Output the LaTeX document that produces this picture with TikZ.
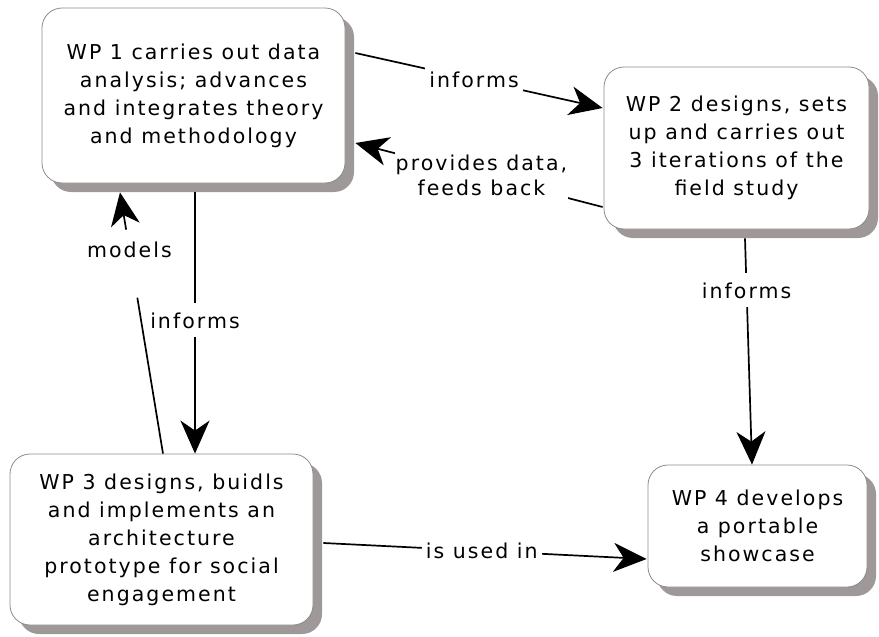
\documentclass[tikz,border=0pt]{standalone}
\usepackage{fontspec}
\setmainfont{DejaVu Sans}[LetterSpace=10]
\usetikzlibrary{arrows.meta,calc,shadows}
\definecolor{shadowgray}{RGB}{158,152,152}
\definecolor{edgegray}{RGB}{140,140,140}
\begin{document}
\begin{tikzpicture}[x=1pt,y=-1pt,
  wpbox/.style={draw=edgegray, line width=0.8pt, fill=white, rounded corners=20pt,
    align=center, inner sep=0pt, font=\fontsize{20.5}{28}\selectfont,
    drop shadow={shadow xshift=9pt, shadow yshift=-9pt, fill=shadowgray, opacity=1}},
  conn/.style={line width=1.7pt, -{Stealth[length=33pt,width=29pt,inset=10pt]}},
  lbl/.style={font=\fontsize{20.5}{25}\selectfont, align=center, inner sep=4pt},
  lblw/.style={lbl, fill=white, inner ysep=9pt}]
\useasboundingbox (0,0) rectangle (879,637);

\node[wpbox, minimum width=303pt, minimum height=175pt] (wp1) at (193.5,95.5)
  {WP 1 carries out data\\analysis; advances\\and integrates theory\\and methodology};
\node[wpbox, minimum width=265pt, minimum height=162pt] (wp2) at (736.5,148)
  {WP 2 designs, sets\\up and carries out\\3 iterations of the\\field study};
\node[wpbox, minimum width=303pt, minimum height=171pt] (wp3) at (161.5,539.5)
  {WP 3 designs, buidls\\and implements an\\architecture\\prototype for social\\engagement};
\node[wpbox, minimum width=219pt, minimum height=122pt] (wp4) at (757.5,526)
  {WP 4 develops\\a portable\\showcase};

% WP1 -> WP2
\draw[conn] ($(wp1.east)+(10,-42.5)$) -- node[lblw, pos=0.48, inner ysep=4pt] {informs} ($(wp2.west)+(-1,-40)$);
% WP2 -> WP1
\draw[conn] ($(wp2.west)+(-1,59)$) -- node[lblw, pos=0.49, inner ysep=3pt, inner xsep=1pt] {provides data,\\feeds back} ($(wp1.east)+(10,47.5)$);
% WP1 -> WP3
\draw[conn] ($(wp1.south)+(1.5,9)$) -- node[lblw, pos=0.49] {informs} ($(wp3.north)+(33.5,0)$);
% WP3 -> WP1
\draw[conn, dash pattern=on 158pt off 69pt on 120pt] ($(wp3.north)+(1.5,0)$) -- node[lbl, pos=0.78] {models} ($(wp1.south)+(-73.5,9)$);
% WP2 -> WP4
\draw[conn] ($(wp2.south)+(8.5,9)$) -- node[lblw, pos=0.23] {informs} ($(wp4.north)+(-5.5,0)$);
% WP3 -> WP4
\draw[conn] ($(wp3.east)+(10,3.5)$) -- node[lblw, pos=0.49, inner ysep=5pt] {is used in} ($(wp4.west)+(-1,33)$);
\end{tikzpicture}
\end{document}
